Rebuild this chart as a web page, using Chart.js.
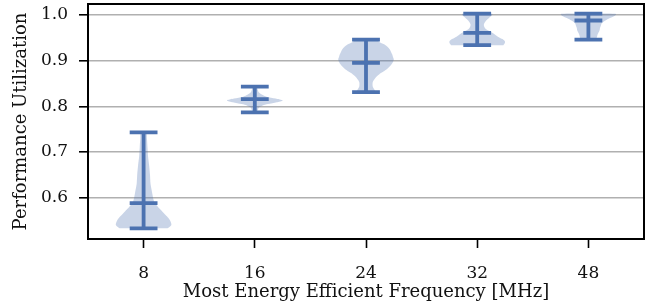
<!DOCTYPE html>
<html><head><meta charset="utf-8">
<script src="https://cdn.jsdelivr.net/npm/chart.js@4/dist/chart.umd.min.js"></script>
<style>html,body{margin:0;padding:0;background:#fff}#wrap{width:646px;height:305px}</style>
</head><body><div id="wrap"><canvas id="c" width="646" height="305"></canvas></div>
<script>
// ---- data ----
const categories = ['8', '16', '24', '32', '48'];
const yTickValues = [0.6, 0.7, 0.8, 0.9, 1.0];
const minValues = [0.533, 0.787, 0.831, 0.934, 0.946];
const maxValues = [0.743, 0.843, 0.946, 1.003, 1.003];
const medianValues = [0.588, 0.816, 0.895, 0.961, 0.988];

// violin density profiles (relative density, 1 = widest)
const levels8 = [0.533,0.537,0.541,0.548,0.555,0.562,0.570,0.578,0.586,0.595,0.610,0.630,0.650,0.670,0.690,0.710,0.730,0.743];
const density8 = [0.86,0.95,1.0,0.97,0.90,0.79,0.67,0.54,0.43,0.36,0.31,0.25,0.23,0.20,0.16,0.14,0.12,0.10];
const levels16 = [0.787,0.792,0.797,0.801,0.805,0.809,0.813,0.817,0.821,0.826,0.831,0.836,0.843];
const density16 = [0.07,0.11,0.14,0.25,0.47,0.79,1.0,0.75,0.42,0.25,0.14,0.11,0.07];
const levels24 = [0.831,0.838,0.844,0.852,0.858,0.864,0.870,0.875,0.880,0.886,0.892,0.897,0.903,0.908,0.914,0.919,0.925,0.930,0.936,0.941,0.946];
const density24 = [0.36,0.29,0.24,0.24,0.29,0.36,0.47,0.60,0.72,0.83,0.92,0.97,1.0,0.97,0.94,0.90,0.85,0.78,0.65,0.47,0.40];
const levels32 = [0.934,0.938,0.942,0.946,0.950,0.955,0.961,0.966,0.970,0.975,0.979,0.985,0.990,0.995,1.000,1.003];
const density32 = [0.94,0.99,1.0,0.94,0.81,0.68,0.54,0.40,0.30,0.25,0.24,0.29,0.36,0.45,0.54,0.54];
const levels48 = [0.946,0.950,0.955,0.961,0.966,0.972,0.977,0.982,0.988,0.993,0.998,1.001,1.003];
const density48 = [0.25,0.30,0.32,0.36,0.40,0.42,0.45,0.48,0.61,0.76,0.94,1.0,0.97];

const allLevels = [levels8, levels16, levels24, levels32, levels48];
const allDensities = [density8, density16, density24, density32, density48];

// ---- styling ----
const VIOLIN_HALF = 0.25, CAP_HALF = 0.125;
const fillColor = 'rgba(76,114,176,0.3)';
const lineColor = '#4C72B0';
const FONT = 'DejaVu Serif';

const datasets = [];
categories.forEach((c, i) => {
  const pos = i + 1;
  const lv = allLevels[i], dn = allDensities[i];
  const right = lv.map((v, k) => ({x: pos + dn[k] * VIOLIN_HALF, y: v}));
  const left = lv.map((v, k) => ({x: pos - dn[k] * VIOLIN_HALF, y: v})).reverse();
  datasets.push({
    type: 'scatter', showLine: true, data: right.concat(left), fill: 'shape',
    backgroundColor: fillColor, borderColor: 'rgba(0,0,0,0)', borderWidth: 0.5,
    pointRadius: 0, tension: 0.25, order: 1
  });
  const gap = {x: pos, y: null};
  const lo = minValues[i], hi = maxValues[i], md = medianValues[i];
  datasets.push({
    type: 'scatter', showLine: true, spanGaps: false, fill: false,
    data: [
      {x: pos, y: lo}, {x: pos, y: hi}, gap,
      {x: pos - CAP_HALF, y: hi}, {x: pos + CAP_HALF, y: hi}, gap,
      {x: pos - CAP_HALF, y: lo}, {x: pos + CAP_HALF, y: lo}, gap,
      {x: pos - CAP_HALF, y: md}, {x: pos + CAP_HALF, y: md}
    ],
    borderColor: lineColor, borderWidth: 3.8, borderCapStyle: 'butt',
    pointRadius: 0, tension: 0, order: 0
  });
});

const framePlugin = {
  id: 'frame',
  afterDraw(chart) {
    const {ctx, chartArea: a} = chart;
    ctx.save();
    ctx.strokeStyle = '#000';
    ctx.lineWidth = 2;
    ctx.strokeRect(a.left, a.top, a.right - a.left, a.bottom - a.top);
    ctx.restore();
  }
};

new Chart(document.getElementById('c'), {
  type: 'scatter',
  data: {datasets},
  plugins: [framePlugin],
  options: {
    responsive: false, animation: false, devicePixelRatio: 1,
    layout: {padding: {top: 4, right: 2, left: 0, bottom: 0}},
    plugins: {legend: {display: false}, tooltip: {enabled: false}},
    scales: {
      x: {
        type: 'linear', min: 0.5, max: 5.5,
        afterBuildTicks: s => { s.ticks = categories.map((c, i) => ({value: i + 1})); },
        afterFit: s => { s.height = 66; s.paddingLeft = 0; s.paddingRight = 0; },
        ticks: {
          callback: v => categories[Math.round(v) - 1],
          font: {family: FONT, size: 17}, color: '#111', padding: 15, maxRotation: 0
        },
        grid: {drawOnChartArea: false, drawTicks: true, tickLength: 9, tickColor: '#000', tickWidth: 1.6},
        border: {display: false},
        title: {display: true, text: 'Most Energy Efficient Frequency [MHz]',
          font: {family: FONT, size: 18}, color: '#111', padding: {top: 0, bottom: 2}}
      },
      y: {
        type: 'linear', min: 0.5096, max: 1.0241,
        afterBuildTicks: s => { s.ticks = yTickValues.map(v => ({value: v})); },
        afterFit: s => { s.width = 88; s.paddingTop = 0; s.paddingBottom = 0; },
        ticks: {
          callback: v => v.toFixed(1),
          font: {family: FONT, size: 17}, color: '#111', padding: 11
        },
        grid: {color: '#b0b0b0', lineWidth: 1.6, tickColor: '#000', tickWidth: 1.6, tickLength: 9},
        border: {display: false},
        title: {display: true, text: 'Performance Utilization',
          font: {family: FONT, size: 18}, color: '#111', padding: {top: 11, bottom: 0}}
      }
    }
  }
});
</script></body></html>
